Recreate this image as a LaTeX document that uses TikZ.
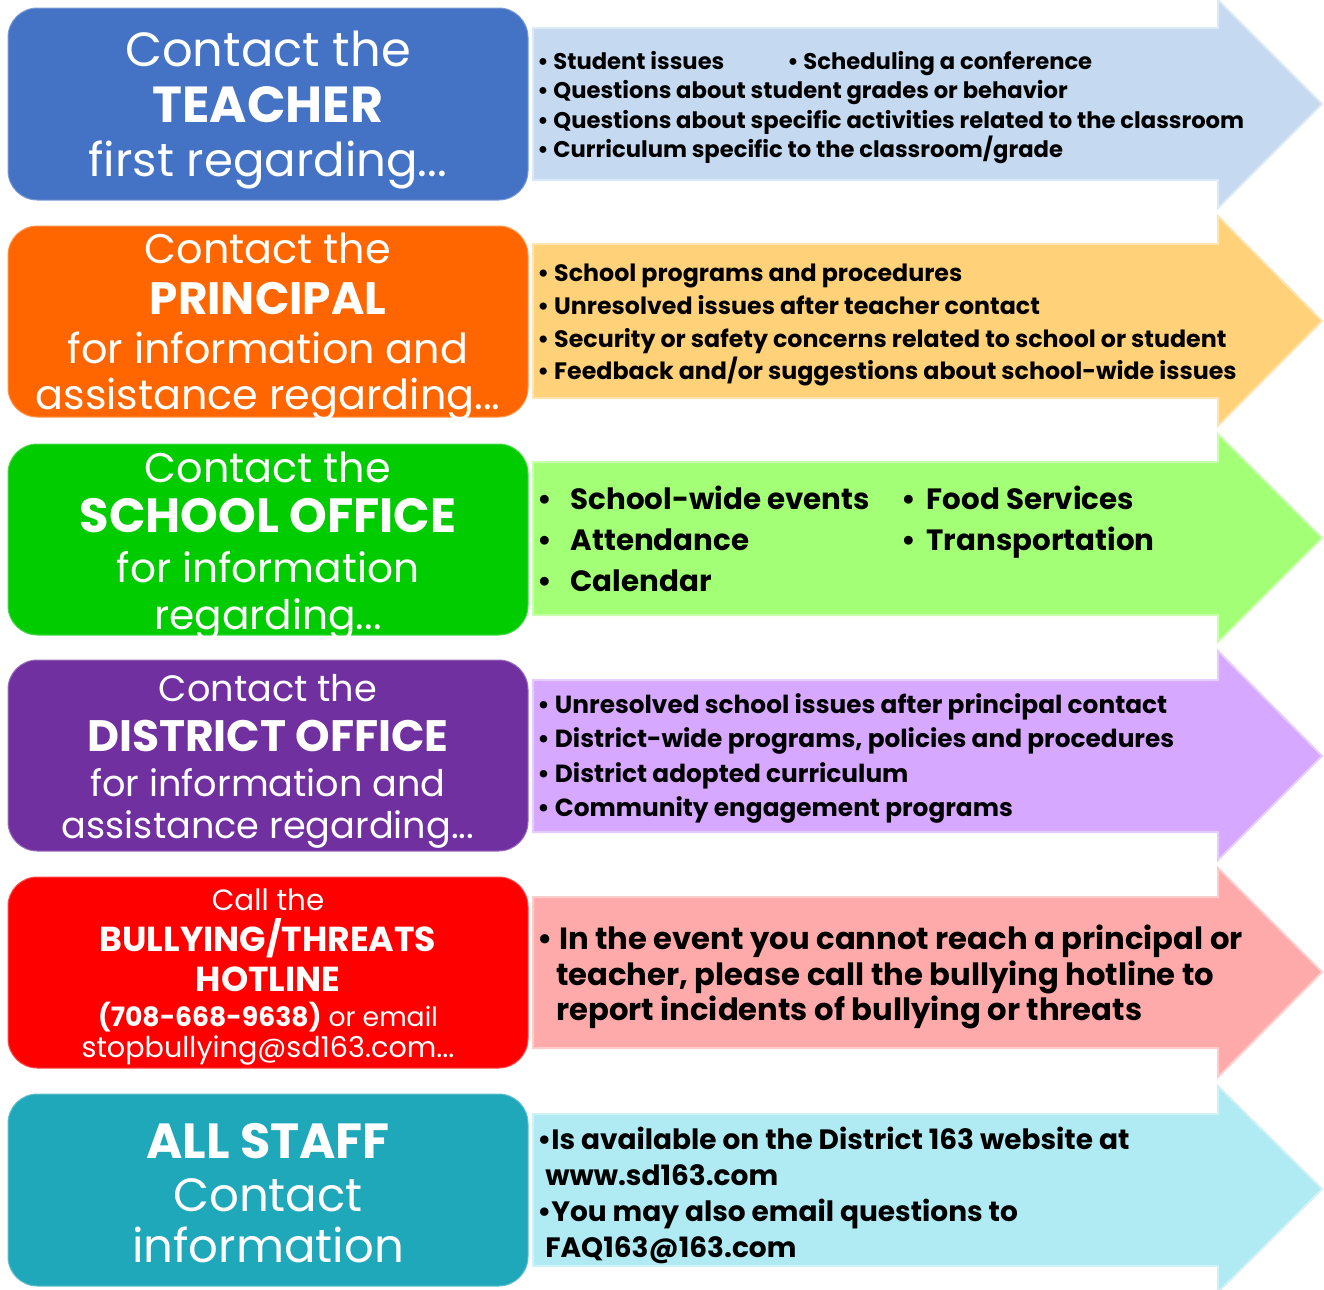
\documentclass[tikz,border=0pt]{standalone}
\usepackage{fontspec}
\setmainfont{Poppins}

\definecolor{teacherbox}{RGB}{68,114,196}
\definecolor{teacherarrow}{RGB}{197,218,240}
\definecolor{principalbox}{RGB}{255,102,0}
\definecolor{principalarrow}{RGB}{255,210,122}
\definecolor{officebox}{RGB}{0,204,0}
\definecolor{officearrow}{RGB}{163,255,117}
\definecolor{districtbox}{RGB}{112,48,160}
\definecolor{districtarrow}{RGB}{214,168,255}
\definecolor{hotlinebox}{RGB}{255,0,0}
\definecolor{hotlinearrow}{RGB}{255,170,170}
\definecolor{staffbox}{RGB}{31,167,186}
\definecolor{staffarrow}{RGB}{176,234,242}

\tikzset{
  leftbox/.style={rounded corners=22pt, line width=0.75pt},
  arrowshape/.style={line width=1.5pt, line join=miter},
  boxtext/.style={text=white, anchor=base, inner sep=0pt},
  itemtext/.style={anchor=base west, inner sep=0pt, font=\bfseries\fontsize{17}{20}\selectfont},
}

\begin{document}
\begin{tikzpicture}[x=0.75pt,y=0.75pt,yscale=-1,xscale=1]
	\useasboundingbox (0,0) rectangle (1324,1289);

	%Shape: Rounded Rectangle [teacher]
	\draw [leftbox, fill=teacherbox, draw=teacherbox!70!white] (8,8) rectangle (528,200);
	%Shape: Right Arrow [teacher]
	\draw [arrowshape, fill=teacherarrow, draw=teacherarrow!60!white] (533,28) -- (1218,28) -- (1218,0) -- (1322,104) -- (1218,208) -- (1218,180) -- (533,180) -- cycle;

	%Shape: Rounded Rectangle [principal]
	\draw [leftbox, fill=principalbox, draw=principalbox!70!white] (8,226) rectangle (528,417);
	%Shape: Right Arrow [principal]
	\draw [arrowshape, fill=principalarrow, draw=principalarrow!60!white] (533,244) -- (1218,244) -- (1218,216) -- (1322,321) -- (1218,426) -- (1218,398) -- (533,398) -- cycle;

	%Shape: Rounded Rectangle [office]
	\draw [leftbox, fill=officebox, draw=officebox!70!white] (8,444) rectangle (528,635);
	%Shape: Right Arrow [office]
	\draw [arrowshape, fill=officearrow, draw=officearrow!60!white] (533,462) -- (1218,462) -- (1218,434) -- (1322,538) -- (1218,642) -- (1218,615) -- (533,615) -- cycle;

	%Shape: Rounded Rectangle [district]
	\draw [leftbox, fill=districtbox, draw=districtbox!70!white] (8,660) rectangle (528,851);
	%Shape: Right Arrow [district]
	\draw [arrowshape, fill=districtarrow, draw=districtarrow!60!white] (533,680) -- (1218,680) -- (1218,651) -- (1322,756) -- (1218,860) -- (1218,832) -- (533,832) -- cycle;

	%Shape: Rounded Rectangle [hotline]
	\draw [leftbox, fill=hotlinebox, draw=hotlinebox!70!white] (8,877) rectangle (528,1068);
	%Shape: Right Arrow [hotline]
	\draw [arrowshape, fill=hotlinearrow, draw=hotlinearrow!60!white] (533,897) -- (1218,897) -- (1218,868) -- (1322,972) -- (1218,1077) -- (1218,1048) -- (533,1048) -- cycle;

	%Shape: Rounded Rectangle [staff]
	\draw [leftbox, fill=staffbox, draw=staffbox!70!white] (8,1094) rectangle (528,1286);
	%Shape: Right Arrow [staff]
	\draw [arrowshape, fill=staffarrow, draw=staffarrow!60!white] (533,1114) -- (1218,1114) -- (1218,1086) -- (1322,1189) -- (1218,1292) -- (1218,1266) -- (533,1266) -- cycle;

	% Text Node
	\node [boxtext, font=\fontsize{36}{40}\selectfont] (teacherA) at (268,66) {Contact the};
	% Text Node
	\node [boxtext, font=\bfseries\fontsize{38}{42}\selectfont] (teacherB) at (268,122) {TEACHER};
	% Text Node
	\node [boxtext, font=\fontsize{35}{40}\selectfont] (teacherC) at (268,176) {first regarding...};

	% Text Node
	\node [boxtext, font=\fontsize{31}{35}\selectfont] (principalA) at (268,263) {Contact the};
	% Text Node
	\node [boxtext, font=\bfseries\fontsize{34}{38}\selectfont] (principalB) at (268,314) {PRINCIPAL};
	% Text Node
	\node [boxtext, font=\fontsize{31}{35}\selectfont] (principalC) at (268,363) {for information and};
	% Text Node
	\node [boxtext, font=\fontsize{31}{35}\selectfont] (principalD) at (268,409) {assistance regarding...};

	% Text Node
	\node [boxtext, font=\fontsize{31}{35}\selectfont] (officeA) at (268,482) {Contact the};
	% Text Node
	\node [boxtext, font=\bfseries\fontsize{36}{40}\selectfont] (officeB) at (268,532) {SCHOOL OFFICE};
	% Text Node
	\node [boxtext, font=\fontsize{30.5}{35}\selectfont] (officeC) at (268,582) {for information};
	% Text Node
	\node [boxtext, font=\fontsize{30.5}{35}\selectfont] (officeD) at (268,629) {regarding...};

	% Text Node
	\node [boxtext, font=\fontsize{27.5}{32}\selectfont] (districtA) at (268,701) {Contact the};
	% Text Node
	\node [boxtext, font=\bfseries\fontsize{33}{37}\selectfont] (districtB) at (268,751) {DISTRICT OFFICE};
	% Text Node
	\node [boxtext, font=\fontsize{27.5}{32}\selectfont] (districtC) at (268,796) {for information and};
	% Text Node
	\node [boxtext, font=\fontsize{27.5}{32}\selectfont] (districtD) at (268,838) {assistance regarding...};

	% Text Node
	\node [boxtext, font=\fontsize{22}{26}\selectfont] (hotlineA) at (268,910) {Call the};
	% Text Node
	\node [boxtext, font=\bfseries\fontsize{26}{30}\selectfont] (hotlineB) at (268,951) {BULLYING/THREATS};
	% Text Node
	\node [boxtext, font=\bfseries\fontsize{26}{30}\selectfont] (hotlineC) at (268,991) {HOTLINE};
	% Text Node
	\node [boxtext, font=\fontsize{20}{24}\selectfont] (hotlineD) at (268,1026) {\textbf{(708-668-9638)} or email};
	% Text Node
	\node [boxtext, font=\fontsize{21.5}{25}\selectfont] (hotlineE) at (268,1057) {stopbullying@sd163.com...};

	% Text Node
	\node [boxtext, font=\bfseries\fontsize{37}{41}\selectfont] (staffA) at (268,1158) {ALL STAFF};
	% Text Node
	\node [boxtext, font=\fontsize{35}{40}\selectfont] (staffB) at (268,1211) {Contact};
	% Text Node
	\node [boxtext, font=\fontsize{35}{40}\selectfont] (staffC) at (268,1262) {information};

	% Item Nodes [teacher]
	\node [itemtext] (teacherI1) at (537,69) {• Student issues};
	\node [itemtext] (teacherI2) at (787,69) {• Scheduling a conference};
	\node [itemtext] (teacherI3) at (537,98) {• Questions about student grades or behavior};
	\node [itemtext] (teacherI4) at (537,128) {• Questions about specific activities related to the classroom};
	\node [itemtext] (teacherI5) at (537,157) {• Curriculum specific to the classroom/grade};

	% Item Nodes [principal]
	\node [itemtext, font=\bfseries\fontsize{17.8}{21}\selectfont] (principalI1) at (537,281) {• School programs and procedures};
	\node [itemtext, font=\bfseries\fontsize{17.8}{21}\selectfont] (principalI2) at (537,314) {• Unresolved issues after teacher contact};
	\node [itemtext, font=\bfseries\fontsize{17.8}{21}\selectfont] (principalI3) at (537,347) {• Security or safety concerns related to school or student};
	\node [itemtext, font=\bfseries\fontsize{17.8}{21}\selectfont] (principalI4) at (537,379) {• Feedback and/or suggestions about school-wide issues};

	% Item Nodes [office]
	\node [itemtext, font=\bfseries\fontsize{22}{26}\selectfont] (officeI1) at (537,509) {•\hspace{14pt}School-wide events};
	\node [itemtext, font=\bfseries\fontsize{22}{26}\selectfont] (officeI2) at (537,550) {•\hspace{14pt}Attendance};
	\node [itemtext, font=\bfseries\fontsize{22}{26}\selectfont] (officeI3) at (537,591) {•\hspace{14pt}Calendar};
	\node [itemtext, font=\bfseries\fontsize{22}{26}\selectfont] (officeI4) at (901,509) {•\hspace{8pt}Food Services};
	\node [itemtext, font=\bfseries\fontsize{22}{26}\selectfont] (officeI5) at (901,550) {•\hspace{8pt}Transportation};

	% Item Nodes [district]
	\node [itemtext, font=\bfseries\fontsize{18.6}{22}\selectfont] (districtI1) at (537,713) {• Unresolved school issues after principal contact};
	\node [itemtext, font=\bfseries\fontsize{18.6}{22}\selectfont] (districtI2) at (537,747) {• District-wide programs, policies and procedures};
	\node [itemtext, font=\bfseries\fontsize{18.6}{22}\selectfont] (districtI3) at (537,782) {• District adopted curriculum};
	\node [itemtext, font=\bfseries\fontsize{18.6}{22}\selectfont] (districtI4) at (537,816) {• Community engagement programs};

	% Item Nodes [hotline]
	\node [itemtext, font=\bfseries\fontsize{23}{27}\selectfont] (hotlineI1) at (537,949) {• In the event you cannot reach a principal or};
	\node [itemtext, font=\bfseries\fontsize{23}{27}\selectfont] (hotlineI2) at (556,985) {teacher, please call the bullying hotline to};
	\node [itemtext, font=\bfseries\fontsize{23}{27}\selectfont] (hotlineI3) at (556,1020) {report incidents of bullying or threats};

	% Item Nodes [staff]
	\node [itemtext, font=\bfseries\fontsize{21}{25}\selectfont] (staffI1) at (537,1149) {•Is available on the District 163 website at};
	\node [itemtext, font=\bfseries\fontsize{21}{25}\selectfont] (staffI2) at (545,1185) {www.sd163.com};
	\node [itemtext, font=\bfseries\fontsize{21}{25}\selectfont] (staffI3) at (537,1221) {•You may also email questions to};
	\node [itemtext, font=\bfseries\fontsize{21}{25}\selectfont] (staffI4) at (545,1257) {FAQ163@163.com};
\end{tikzpicture}
\end{document}
